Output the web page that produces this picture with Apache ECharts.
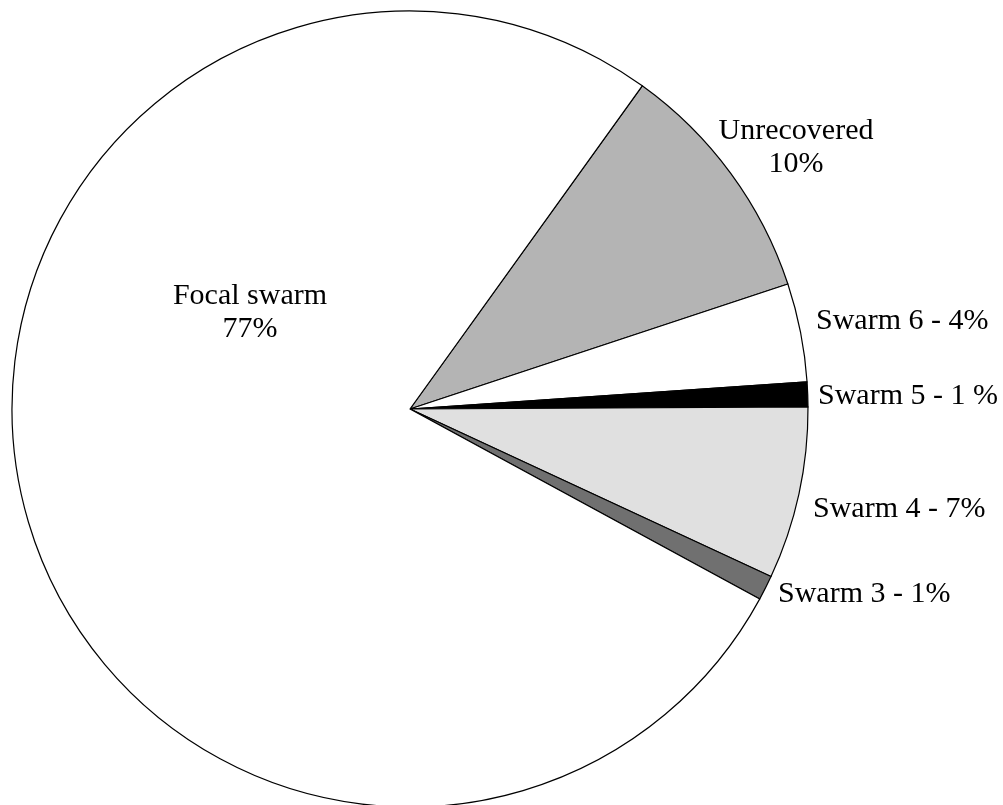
<!DOCTYPE html>
<html>
<head>
<meta charset="utf-8">
<script src="https://cdn.jsdelivr.net/npm/echarts@6/dist/echarts.min.js"></script>
<style>
html,body{margin:0;padding:0;background:#fff;}
#chart{width:1003px;height:805px;}
</style>
</head>
<body>
<div id="chart"></div>
<script>
// Data (clockwise from the Unrecovered slice)
const categories = ['Unrecovered', 'Swarm 6', 'Swarm 5', 'Swarm 4', 'Swarm 3', 'Focal swarm'];
const values = [10, 4, 1, 7, 1, 77];
const labelTexts = ['Unrecovered\n10%', 'Swarm 6 - 4%', 'Swarm 5 - 1 %', 'Swarm 4 - 7%', 'Swarm 3 - 1%', 'Focal swarm\n77%'];

// Styles
const sliceColors = ['#b4b4b4', '#ffffff', '#000000', '#e0e0e0', '#707070', '#ffffff'];
const labelPlacement = [
  {x: 796, y: 148, align: 'center'},
  {x: 816, y: 321, align: 'left'},
  {x: 818, y: 396, align: 'left'},
  {x: 813, y: 509, align: 'left'},
  {x: 778, y: 594, align: 'left'},
  {x: 250, y: 313, align: 'center'}
];

const chart = echarts.init(document.getElementById('chart'), null, {renderer: 'canvas'});
chart.setOption({
  animation: false,
  backgroundColor: '#ffffff',
  series: [{
    type: 'pie',
    center: [410, 409],
    radius: 398,
    startAngle: 54.3,
    clockwise: true,
    avoidLabelOverlap: false,
    itemStyle: {borderColor: '#000', borderWidth: 1.2},
    label: {
      show: true,
      position: 'inside',
      color: '#000',
      fontFamily: 'Liberation Serif',
      fontSize: 30,
      lineHeight: 33,
      formatter: p => labelTexts[p.dataIndex]
    },
    labelLine: {show: false},
    labelLayout: function (params) {
      const lp = labelPlacement[params.dataIndex];
      return {x: lp.x, y: lp.y, align: lp.align, verticalAlign: 'middle'};
    },
    emphasis: {disabled: true},
    data: categories.map((c, i) => ({
      name: c,
      value: values[i],
      itemStyle: {color: sliceColors[i]}
    }))
  }]
});
</script>
</body>
</html>
